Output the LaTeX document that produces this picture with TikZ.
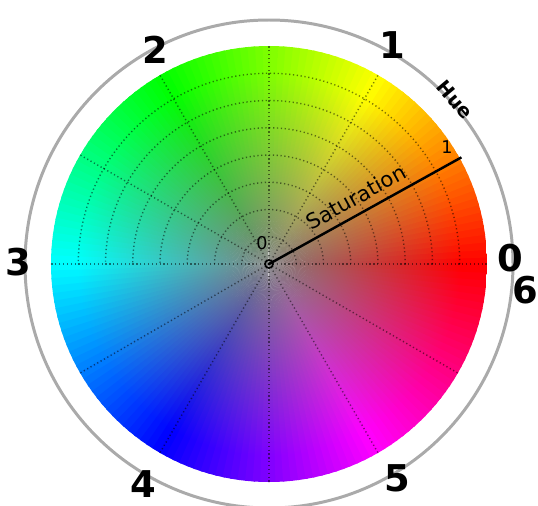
\documentclass[tikz,border=0pt]{standalone}
\usepackage{fontspec}
\setmainfont{DejaVu Sans}
\usepackage{xcolor}
\usepackage{tikz}
\usetikzlibrary{positioning}

\definecolor{midgray}{RGB}{128,128,128}
\definecolor{ringgray}{RGB}{170,170,170}
\definecolor{huecol}{Hsb}{0,1,1}

% grey in the middle, pure hue at the rim
\pgfdeclareradialshading[huecol]{wheel}{\pgfpoint{0bp}{0bp}}{
    color(0bp)=(midgray);
    color(22bp)=(huecol);
    color(25bp)=(huecol);
    color(50bp)=(huecol)
}

\begin{document}
\begin{tikzpicture}[
    x=0.02cm, y=0.02cm,
    huelabel/.style={
        font=\fontsize{21}{21}\selectfont\bfseries,
        inner sep=0pt
    },
    axislabel/.style={
        font=\fontsize{10}{10}\selectfont,
        inner sep=0pt
    },
    grid/.style={
        black,
        opacity=0.5,
        line width=0.8pt,
        dash pattern=on 0.7pt off 1.5pt
    },
    ring/.style={
        ringgray,
        line width=1.7pt
    }
]
\useasboundingbox (-269,-241) rectangle (269,264);
\coordinate (centre) at (0,0);

% Colour wheel
\foreach \a in {0,2,...,358} {
    \pgfmathsetmacro{\h}{\a+1}
    \definecolor{huecol}{Hsb}{\h,1,1}
    \begin{scope}
        \clip (centre) -- ({\a-0.3}:220) arc ({\a-0.3}:{\a+2.3}:220) -- cycle;
        \shade[shading=wheel] (centre) circle (218);
    \end{scope}
}

% Dotted grid
\foreach \r in {1,...,7}
    \draw[grid] (0:{\r*27.25}) arc (0:180:{\r*27.25});
\foreach \a in {0,60,90,120,150,180,210,240,270,300,330}
    \draw[grid] (centre) -- (\a:218);

% Outer ring
\draw[ring] (centre) circle (244);

% Saturation axis
\draw[line width=1.4pt] (centre) -- (29:220);
\draw[line width=0.9pt] (centre) circle (4);

% Labels
\node[huelabel] (h0) at (241,6) {0};
\node[huelabel] (h1) at (123,219) {1};
\node[huelabel] (h2) at (-114,214) {2};
\node[huelabel] (h3) at (-251,2) {3};
\node[huelabel] (h4) at (-126,-220) {4};
\node[huelabel] (h5) at (128,-214) {5};
\node[huelabel] (h6) at (256,-26) {6};

\node[font=\fontsize{11}{11}\selectfont\bfseries, rotate=-50] (hue) at (186,164) {Hue};
\node[font=\fontsize{12}{12}\selectfont, rotate=29] (sat) at (87,67) {Saturation};
\node[axislabel] (s0) at (-7,21) {0};
\node[axislabel] (s1) at (178,117) {1};

\end{tikzpicture}
\end{document}
